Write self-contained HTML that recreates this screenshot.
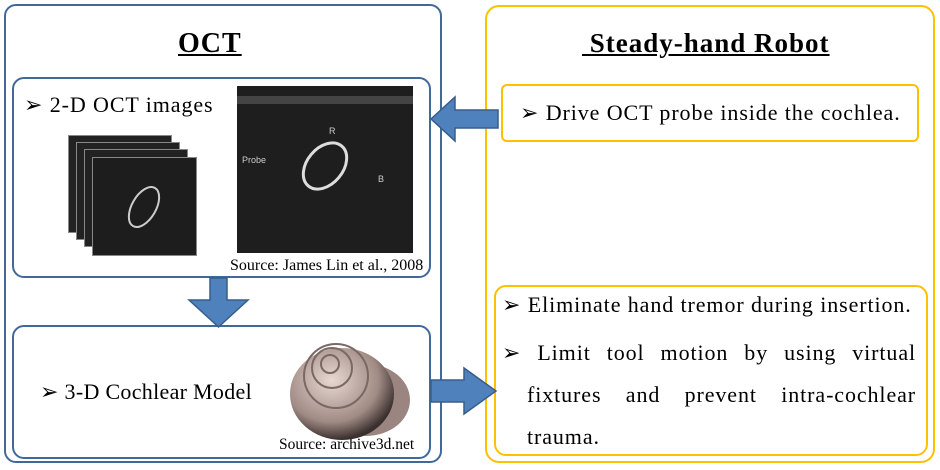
<!DOCTYPE html>
<html><head><style>
body{margin:0;width:940px;height:470px;background:#fff;position:relative;overflow:hidden;font-family:"Liberation Serif",serif;}
.b{position:absolute;box-sizing:border-box;}
.t{position:absolute;white-space:nowrap;color:#000;}
.f{font-size:22px;letter-spacing:0.9px;}
.j{display:block;text-align:justify;text-align-last:justify;}
</style></head><body>
<div class="b" style="left:4px;top:4px;width:438px;height:459px;border:2.5px solid #41689a;border-radius:12px"></div>
<div class="b" style="left:12px;top:77px;width:419px;height:201px;border:2.5px solid #41689a;border-radius:12px"></div>
<div class="b" style="left:12px;top:325px;width:419px;height:134px;border:2.5px solid #41689a;border-radius:12px"></div>
<div class="b" style="left:485px;top:5px;width:450px;height:458px;border:2.5px solid #ffc000;border-radius:14px"></div>
<div class="b" style="left:501px;top:84px;width:418px;height:58px;border:2.5px solid #ffc000;border-radius:6px"></div>
<div class="b" style="left:494px;top:285px;width:434px;height:171px;border:2.5px solid #ffc000;border-radius:12px"></div>

<div class="t" style="left:178px;top:28px;font-size:28px;font-weight:bold;text-decoration:underline;letter-spacing:1px">OCT</div>
<div class="t" style="left:582px;top:28px;font-size:27px;font-weight:bold;text-decoration:underline;letter-spacing:1px">&nbsp;Steady-hand Robot</div>

<div class="t f" style="left:24px;top:92px">&#x27A2; 2-D OCT images</div>
<div class="t f" style="left:520px;top:100px">&#x27A2; Drive OCT probe inside the cochlea.</div>
<div class="t f" style="left:40px;top:379px;letter-spacing:0.3px">&#x27A2; 3-D Cochlear Model</div>
<div class="t f" style="left:502px;top:292px">&#x27A2; Eliminate hand tremor during insertion.</div>
<div class="t f" style="left:502px;top:332px;line-height:42px;white-space:normal;width:414px"><span class="j">&#x27A2; Limit tool motion by using virtual</span><span class="j" style="padding-left:25px">fixtures and prevent intra-cochlear</span><span style="padding-left:25px">trauma.</span></div>

<div class="t" style="left:230px;top:257px;font-size:16px">Source: James Lin et al., 2008</div>
<div class="t" style="left:279px;top:436px;font-size:15.5px">Source: archive3d.net</div>

<div class="b" style="left:68px;top:135px;width:104px;height:98px;background:#222;border:1px solid #888"></div>
<div class="b" style="left:76px;top:142px;width:104px;height:98px;background:#222;border:1px solid #888"></div>
<div class="b" style="left:84px;top:149px;width:104px;height:98px;background:#222;border:1px solid #888"></div>
<div class="b" style="left:92px;top:157px;width:105px;height:99px;background:#1d1d1d;border:1px solid #888"></div>
<svg class="b" style="left:92px;top:157px" width="105" height="99"><ellipse cx="52" cy="50" rx="12" ry="22" transform="rotate(30 52 50)" fill="none" stroke="#ccc" stroke-width="2"/></svg>
<div class="b" style="left:237px;top:86px;width:176px;height:167px;background:#1e1e1e"></div>
<svg class="b" style="left:237px;top:86px" width="176" height="167">
<rect x="0" y="10" width="176" height="8" fill="#444"/>
<ellipse cx="88" cy="80" rx="18" ry="26" transform="rotate(40 88 80)" fill="none" stroke="#ddd" stroke-width="3"/>
<text x="5" y="77" fill="#ccc" font-size="9" font-family="Liberation Sans">Probe</text>
<text x="92" y="48" fill="#ccc" font-size="9" font-family="Liberation Sans">R</text>
<text x="141" y="96" fill="#ccc" font-size="9" font-family="Liberation Sans">B</text>
</svg>
<svg class="b" style="left:286px;top:338px" width="130" height="105">
<defs><radialGradient id="g" cx="40%" cy="35%" r="65%"><stop offset="0" stop-color="#e8d8d2"/><stop offset="0.7" stop-color="#a08a84"/><stop offset="1" stop-color="#3a302e"/></radialGradient></defs>
<ellipse cx="80" cy="62" rx="44" ry="36" fill="#9a8580"/>
<ellipse cx="56" cy="56" rx="52" ry="46" fill="url(#g)"/>
<circle cx="50" cy="38" r="32" fill="none" stroke="#7a6864" stroke-width="2"/>
<circle cx="46" cy="30" r="20" fill="none" stroke="#7a6864" stroke-width="2"/>
<circle cx="44" cy="26" r="9" fill="none" stroke="#7a6864" stroke-width="2"/>
</svg>

<svg class="b" style="left:0;top:0" width="940" height="470">
<polygon points="210,278 227,278 227,300 248,300 218.5,327 189,300 210,300" fill="#4f81bd" stroke="#385d8a" stroke-width="1.5"/>
<polygon points="498,110 455,110 455,97 431,119 455,141 455,128 498,128" fill="#4f81bd" stroke="#385d8a" stroke-width="1.5"/>
<polygon points="431,380 464,380 464,368 496,391 464,414 464,402 431,402" fill="#4f81bd" stroke="#385d8a" stroke-width="1.5"/>
</svg>
</body></html>
